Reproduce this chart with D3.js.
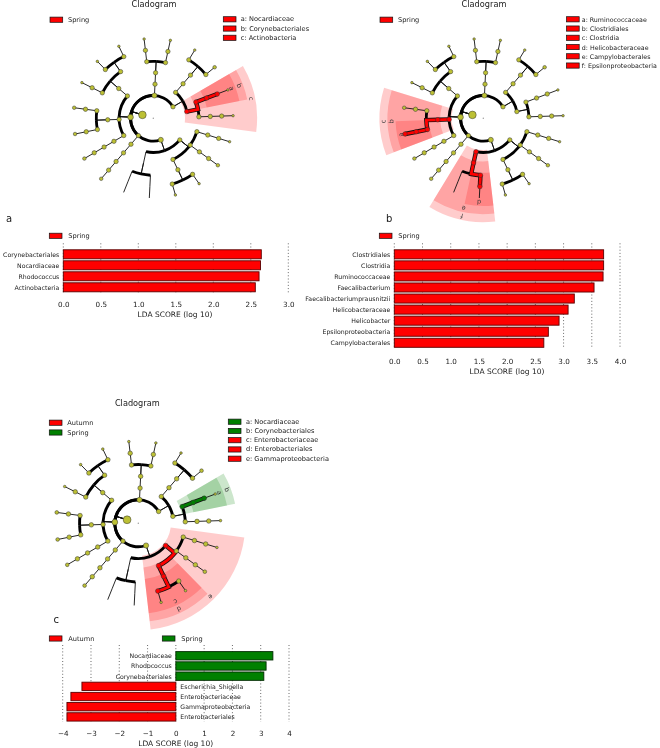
<!DOCTYPE html>
<html><head><meta charset="utf-8">
<script src="https://cdn.jsdelivr.net/npm/d3@7"></script>
<style>
body{margin:0;background:#fff}
svg{display:block;filter:grayscale(0.001)}
text{font-family:"DejaVu Sans",sans-serif;fill:#1a1a1a}
</style>
</head><body>
<svg id="chart" width="660" height="748"></svg>
<script>
// ---------------- DATA ----------------
// taxonomy tree: [id, parent, relative abundance (dot size)]
const taxa = [
 ["root","",0],
 ["Bacteria","root",9],
 ["Proteobacteria","Bacteria",4],
 ["Gammaproteobacteria","Proteobacteria",3],
 ["o_Gamma1","Gammaproteobacteria",3],["f_Gamma1","o_Gamma1",3],["g_Gamma1","f_Gamma1",3],["s_Gamma1","g_Gamma1",1],
 ["o_Gamma2","Gammaproteobacteria",3],["f_Gamma2","o_Gamma2",3],["g_Gamma2","f_Gamma2",3],["s_Gamma2","g_Gamma2",2],
 ["Enterobacteriales","Gammaproteobacteria",3],["Enterobacteriaceae","Enterobacteriales",3],
 ["g_Entero1","Enterobacteriaceae",3],["s_Entero1","g_Entero1",1],
 ["Escherichia_Shigella","Enterobacteriaceae",3],["s_Escherichia","Escherichia_Shigella",1],
 ["Epsilonproteobacteria","Proteobacteria",0],["Campylobacterales","Epsilonproteobacteria",0],
 ["Helicobacteraceae","Campylobacterales",0],["Helicobacter","Helicobacteraceae",0],["s_Helicobacter","Helicobacter",0],
 ["f_Campy2","Campylobacterales",0],["g_Campy2","f_Campy2",0],["s_Campy2","g_Campy2",0],
 ["p_Phylum4","Bacteria",3],["c_Phylum4","p_Phylum4",3],["o_Phylum4","c_Phylum4",3],["f_Phylum4","o_Phylum4",3],["g_Phylum4","f_Phylum4",3],["s_Phylum4","g_Phylum4",2],
 ["Firmicutes","Bacteria",5],
 ["c_Firm1","Firmicutes",3],["o_Firm1","c_Firm1",3],["f_Firm1","o_Firm1",3],["g_Firm1","f_Firm1",3],["s_Firm1","g_Firm1",2],
 ["Clostridia","Firmicutes",3],["Clostridiales","Clostridia",3],
 ["Ruminococcaceae","Clostridiales",3],["Faecalibacterium","Ruminococcaceae",3],["Faecalibacteriumprausnitzii","Faecalibacterium",2],
 ["f_Clos2","Clostridiales",3],["g_Clos2","f_Clos2",3],["s_Clos2","g_Clos2",2],
 ["c_Firm3","Firmicutes",3],["o_Firm3","c_Firm3",3],
 ["f_Firm3a","o_Firm3",3],["g_Firm3a","f_Firm3a",3],["s_Firm3a","g_Firm3a",1],
 ["f_Firm3b","o_Firm3",3],["g_Firm3b1","f_Firm3b",3],["s_Firm3b1","g_Firm3b1",1],["g_Firm3b2","f_Firm3b",3],["s_Firm3b2","g_Firm3b2",1],
 ["p_Phylum2","Bacteria",4],["c_Phylum2","p_Phylum2",3],["o_Phylum2","c_Phylum2",3],
 ["f_Phylum2a","o_Phylum2",3],["g_Phylum2a","f_Phylum2a",3],["s_Phylum2a","g_Phylum2a",1],
 ["f_Phylum2b","o_Phylum2",3],["g_Phylum2b","f_Phylum2b",3],["s_Phylum2b","g_Phylum2b",1],
 ["p_Actinobacteria","Bacteria",3],
 ["c_Act1","p_Actinobacteria",3],["o_Act1","c_Act1",3],["f_Act1","o_Act1",3],
 ["g_Act1a","f_Act1",3],["s_Act1a","g_Act1a",1],["g_Act1b","f_Act1",3],["s_Act1b","g_Act1b",2],
 ["Actinobacteria","p_Actinobacteria",3],
 ["Corynebacteriales","Actinobacteria",3],["Nocardiaceae","Corynebacteriales",3],["Rhodococcus","Nocardiaceae",3],["s_Rhodococcus","Rhodococcus",1],
 ["o_Act2","Actinobacteria",3],["f_Act2","o_Act2",3],["g_Act2","f_Act2",3],["s_Act2","g_Act2",1]
];

const classColors = {Spring:"#ff0000", Autumn:"#ff0000"};
const classColorsC = {Spring:"#008000", Autumn:"#ff0000"};

// cladogram a
const cladoA_classes = ["Spring"];
const cladoA_clades = ["Nocardiaceae","Corynebacteriales","Actinobacteria"];
const cladoA_letters = ["a","b","c"];
const cladoA_cls = ["Spring","Spring","Spring"];
const cladoA_extra = [["Rhodococcus","Spring"]];
// cladogram b
const cladoB_classes = ["Spring"];
const cladoB_clades = ["Ruminococcaceae","Clostridiales","Clostridia","Helicobacteraceae","Campylobacterales","Epsilonproteobacteria"];
const cladoB_letters = ["a","b","c","d","e","f"];
const cladoB_cls = ["Spring","Spring","Spring","Spring","Spring","Spring"];
const cladoB_extra = [["Faecalibacterium","Spring"],["Faecalibacteriumprausnitzii","Spring"],["Helicobacter","Spring"]];
// cladogram c
const cladoC_classes = ["Autumn","Spring"];
const cladoC_clades = ["Nocardiaceae","Corynebacteriales","Enterobacteriaceae","Enterobacteriales","Gammaproteobacteria"];
const cladoC_letters = ["a","b","c","d","e"];
const cladoC_cls = ["Spring","Spring","Autumn","Autumn","Autumn"];
const cladoC_extra = [["Rhodococcus","Spring"],["Escherichia_Shigella","Autumn"]];

// LDA bars
const barA_names = ["Corynebacteriales","Nocardiaceae","Rhodococcus","Actinobacteria"];
const barA_vals = [2.64, 2.63, 2.61, 2.56];
const barA_ticks = [0,0.5,1,1.5,2,2.5,3];
const barB_names = ["Clostridiales","Clostridia","Ruminococcaceae","Faecalibacterium","Faecalibacteriumprausnitzii","Helicobacteraceae","Helicobacter","Epsilonproteobacteria","Campylobacterales"];
const barB_vals = [3.71, 3.71, 3.70, 3.54, 3.19, 3.08, 2.92, 2.73, 2.65];
const barB_ticks = [0,0.5,1,1.5,2,2.5,3,3.5,4];
const barC_names = ["Nocardiaceae","Rhodococcus","Corynebacteriales","Escherichia_Shigella","Enterobacteriaceae","Gammaproteobacteria","Enterobacteriales"];
const barC_vals = [3.43, 3.19, 3.11, -3.32, -3.71, -3.85, -3.85];
const barC_ticks = [-4,-3,-2,-1,0,1,2,3,4];

// ---------------- DRAW ----------------
const svg = d3.select("#chart");
const YELLOW = "#bcc034";

function swatch(g, x, y, color){
  g.append("rect").attr("x",x).attr("y",y-2.6).attr("width",12.7).attr("height",5.2)
   .attr("fill",color).attr("stroke","#111").attr("stroke-width",0.7);
}

function cladogram(o){
  const root = d3.stratify().id(d=>d[0]).parentId(d=>d[1] || null)(taxa);
  d3.cluster().size([360, 7]).separation(()=>1)(root);
  const nLeaves = root.leaves().length;
  const gapDeg = 360 / nLeaves;
  const ang = d3.scaleLinear().domain([0,360]).range([o.rot, o.rot+360]);
  const rad = d3.scaleLinear().domain([0,7]).range([0, 7*o.step]);
  const dotR = d3.scaleSqrt().domain([0,9]).range([0,3.8]);
  const toR = a => a*Math.PI/180;
  const pol = (a,r) => [r*Math.cos(toR(a)), r*Math.sin(toR(a))];

  const hl = new Map();
  o.clades.forEach((c,i)=>hl.set(c, o.cls[i]));
  o.extra.forEach(([c,k])=>hl.set(c,k));
  const byId = new Map(root.descendants().map(d=>[d.id,d]));

  const g = svg.append("g").attr("transform",`translate(${o.cx},${o.cy})`);

  // wedges
  const arcGen = d3.arc();
  const wedgeInfo = o.clades.map((id,i)=>{
    const n = byId.get(id);
    const xs = n.leaves().map(l=>l.x);
    const a0 = ang(d3.min(xs)) - gapDeg/2, a1 = ang(d3.max(xs)) + gapDeg/2;
    const outer = rad(7) + (6 - n.depth)*8*o.s;
    const inner = rad(n.depth) - 2.5*o.s;
    return {id, n, a0, a1, outer, inner, color:o.colors[o.cls[i]], letter:o.letters[i]};
  });
  wedgeInfo.slice().sort((a,b)=>a.n.depth-b.n.depth).forEach(w=>{
    g.append("path").attr("d", arcGen({innerRadius:w.inner, outerRadius:w.outer,
        startAngle:toR(w.a0+90), endAngle:toR(w.a1+90)}))
      .attr("fill", w.color).attr("fill-opacity",0.2).attr("stroke","none");
  });

  const edges = root.descendants().filter(n=>n.parent && n.parent.parent);
  // radial thin lines
  edges.forEach(n=>{
    const p = n.parent;
    const [x0,y0] = pol(ang(p.x), rad(p.depth)), [x1,y1] = pol(ang(p.x), rad(n.depth));
    g.append("line").attr("x1",x0).attr("y1",y0).attr("x2",x1).attr("y2",y1)
      .attr("stroke","#111").attr("stroke-width",0.9);
  });
  // arcs thick
  edges.forEach(n=>{
    const p = n.parent;
    const a0 = ang(p.x), a1 = ang(n.x);
    if (Math.abs(a1-a0) < 0.01) return;
    const path = d3.path();
    path.arc(0,0,rad(n.depth), toR(a0), toR(a1), a1 < a0);
    g.append("path").attr("d", path.toString()).attr("fill","none")
      .attr("stroke","#000").attr("stroke-width",2.8*o.s);
  });
  // highlighted edges
  edges.filter(n=>hl.has(n.id) && hl.has(n.parent.id)).forEach(n=>{
    const p = n.parent, col = o.colors[hl.get(n.id)];
    const a0 = ang(p.x), a1 = ang(n.x);
    const path = d3.path();
    const [x0,y0] = pol(a0, rad(p.depth));
    path.moveTo(x0,y0);
    const [x1,y1] = pol(a0, rad(n.depth));
    path.lineTo(x1,y1);
    if (Math.abs(a1-a0) > 0.01) path.arc(0,0,rad(n.depth), toR(a0), toR(a1), a1 < a0);
    g.append("path").attr("d",path.toString()).attr("fill","none").attr("stroke","#111").attr("stroke-width",4.4);
    g.append("path").attr("d",path.toString()).attr("fill","none").attr("stroke",col).attr("stroke-width",2.8);
  });
  // dots
  g.append("circle").attr("r",0.7).attr("fill","#999");
  root.descendants().filter(n=>n.parent).forEach(n=>{
    const isH = hl.has(n.id);
    const sz = n.data[2];
    if (!isH && sz <= 0) return;
    const r = isH ? Math.max(dotR(sz), 2.3) : dotR(sz);
    const [x,y] = pol(ang(n.x), rad(n.depth));
    g.append("circle").attr("cx",x).attr("cy",y).attr("r",r*o.s)
      .attr("fill", isH ? o.colors[hl.get(n.id)] : YELLOW)
      .attr("stroke","#333").attr("stroke-width",0.5);
  });
  // wedge letters
  wedgeInfo.forEach(w=>{
    const mid = (w.a0+w.a1)/2;
    const [x,y] = pol(mid, w.outer - 4*o.s);
    g.append("text").attr("transform",`translate(${x},${y}) rotate(${mid+90})`)
      .attr("text-anchor","middle").attr("dominant-baseline","central")
      .attr("font-size",6.5).style("fill","#333").text(w.letter);
  });

  // title
  svg.append("text").attr("x",o.titleX).attr("y",o.titleY).attr("text-anchor","middle")
     .attr("font-size",8.2).text("Cladogram");
  // legends
  o.classes.forEach((c,i)=>{
    const y = o.legL[1] + i*9.8;
    swatch(svg, o.legL[0], y, o.colors[c]);
    svg.append("text").attr("x",o.legL[0]+18).attr("y",y).attr("dominant-baseline","central")
       .attr("font-size",6.6).text(c);
  });
  o.clades.forEach((c,i)=>{
    const y = o.legR[1] + i*9.25;
    swatch(svg, o.legR[0], y, o.colors[o.cls[i]]);
    svg.append("text").attr("x",o.legR[0]+o.legR[2]).attr("y",y).attr("dominant-baseline","central")
       .attr("font-size",o.legR[3]).text(`${o.letters[i]}: ${c}`);
  });
}

cladogram({cx:153.3, cy:118.3, step:11.4, s:1, rot:7.6, colors:classColors,
  clades:cladoA_clades, letters:cladoA_letters, cls:cladoA_cls, extra:cladoA_extra, classes:cladoA_classes,
  titleX:154, titleY:6.6, legL:[50,19.7], legR:[223.3,19.3,17.4,6.6]});
cladogram({cx:483.3, cy:118.3, step:11.4, s:1, rot:7.6, colors:classColors,
  clades:cladoB_clades, letters:cladoB_letters, cls:cladoB_cls, extra:cladoB_extra, classes:cladoB_classes,
  titleX:484, titleY:6.6, legL:[380,19.7], legR:[566.5,19.3,15.3,6.3]});
cladogram({cx:138.3, cy:523.3, step:11.75, s:1.03, rot:7.6, colors:classColorsC,
  clades:cladoC_clades, letters:cladoC_letters, cls:cladoC_cls, extra:cladoC_extra, classes:cladoC_classes,
  titleX:137.3, titleY:406.2, legL:[49.3,422.7], legR:[228.3,421.7,17.7,6.6]});

// panel letters
svg.append("text").attr("x",6).attr("y",222).attr("font-size",10).text("a");
svg.append("text").attr("x",386).attr("y",221.5).attr("font-size",10).text("b");
svg.append("text").attr("x",53.5).attr("y",622.5).attr("font-size",10).text("c");

function ldaBars(o){
  const x = d3.scaleLinear().domain(o.domain).range(o.xr);
  const y = d3.scaleBand().domain(o.names).range(o.yr).paddingInner(0.18).paddingOuter(0.09);
  const g = svg.append("g");
  // grid
  g.selectAll("line.grid").data(o.ticks).join("line")
    .attr("x1",d=>x(d)).attr("x2",d=>x(d)).attr("y1",o.gridTop).attr("y2",o.yr[1])
    .attr("stroke","#444").attr("stroke-width",0.8).attr("stroke-dasharray","1,2.2");
  // bars
  g.selectAll("rect.bar").data(o.names).join("rect")
    .attr("x",(d,i)=>x(Math.min(0,o.vals[i])))
    .attr("width",(d,i)=>Math.abs(x(o.vals[i])-x(0)))
    .attr("y",d=>y(d)).attr("height",y.bandwidth())
    .attr("fill",(d,i)=>o.vals[i]>=0 ? o.posColor : o.negColor)
    .attr("stroke",(d,i)=>o.vals[i]>=0 ? o.posEdge : o.negEdge).attr("stroke-width",0.9);
  // labels
  g.selectAll("text.lab").data(o.names).join("text")
    .attr("x",(d,i)=> o.vals[i] >= 0 ? x(0)-4 : x(0)+4.5)
    .attr("y",d=>y(d)+y.bandwidth()/2).attr("dominant-baseline","central")
    .attr("text-anchor",(d,i)=> o.vals[i] >= 0 ? "end" : "start")
    .attr("font-size",6.2).text(d=>d);
  // axis
  const ax = svg.append("g").attr("transform",`translate(0,${o.axisY})`)
    .call(d3.axisBottom(x).tickValues(o.ticks).tickFormat(d3.format(o.fmt)).tickSize(0).tickPadding(0));
  ax.select(".domain").remove();
  ax.selectAll("text").attr("font-size",7.2).attr("font-family","DejaVu Sans").attr("fill","#1a1a1a").attr("dy","0");
  svg.append("text").attr("x",o.labelX).attr("y",o.labelY).attr("text-anchor","middle")
     .attr("font-size",7.5).text("LDA SCORE (log 10)");
  // legend
  o.legend.forEach(([name,color,lx])=>{
    swatch(svg, lx, o.legY, color);
    svg.append("text").attr("x",lx+19).attr("y",o.legY).attr("dominant-baseline","central")
      .attr("font-size",6.6).text(name);
  });
}

ldaBars({names:barA_names, vals:barA_vals, ticks:barA_ticks, domain:[0,3], xr:[63.3,288.3],
  yr:[248.8,292.8], gridTop:243.3, axisY:307.3, fmt:".1f", labelX:175, labelY:317.3,
  posColor:"#ff0000", posEdge:"#5a0000", negColor:"#ff0000", negEdge:"#5a0000",
  legY:235.8, legend:[["Spring","#ff0000",49.3]]});
ldaBars({names:barB_names, vals:barB_vals, ticks:barB_ticks, domain:[0,4], xr:[394.3,620],
  yr:[248.8,348.3], gridTop:243.3, axisY:363.5, fmt:".1f", labelX:507, labelY:373.5,
  posColor:"#ff0000", posEdge:"#5a0000", negColor:"#ff0000", negEdge:"#5a0000",
  legY:235.8, legend:[["Spring","#ff0000",379.3]]});
ldaBars({names:barC_names, vals:barC_vals, ticks:barC_ticks, domain:[-4,4], xr:[62.7,289],
  yr:[650.7,722], gridTop:645, axisY:736, fmt:"d", labelX:175.7, labelY:746,
  posColor:"#008000", posEdge:"#002a00", negColor:"#ff0000", negEdge:"#5a0000",
  legY:638.5, legend:[["Autumn","#ff0000",49.3],["Spring","#008000",162.3]]});
</script>
</body></html>
